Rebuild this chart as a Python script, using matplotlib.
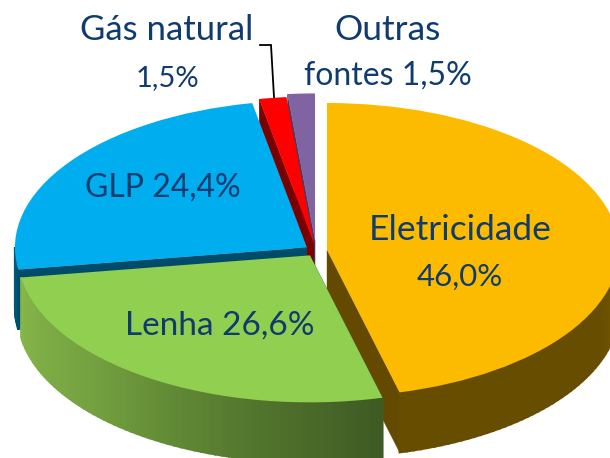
import numpy as np
import matplotlib
matplotlib.use("Agg")
import matplotlib.pyplot as plt
from matplotlib.colors import to_rgb

categories = ["Eletricidade", "Lenha", "GLP", "Gás natural", "Outras fontes"]
values = [46.0, 26.6, 24.4, 1.5, 1.5]
explode = [0.038, 0.038, 0.038, 0.05, 0.07]
top_colors = ["#FDBB00", "#90CF50", "#00AEEF", "#FF0000", "#8064A2"]
face_colors = ["#634A00", "#4A6B2C", "#004B69", "#7A0000", "#4A3A60"]
rim_stops = [
    [(0.0, "#7A5B00"), (0.12, "#735600"), (0.3, "#664D00"), (1.0, "#664D00")],
    [(0.0, "#3E5A24"), (0.3, "#55792F"), (0.65, "#74A140"), (1.0, "#85B64A")],
    [(0.0, "#004B69"), (1.0, "#005878")],
    [(0.0, "#7A0000"), (1.0, "#7A0000")],
    [(0.0, "#4A3A60"), (1.0, "#4A3A60")],
]
z_order = [3, 5, 4, 2, 1]
TEXT = "#0F3B6E"

# pie geometry in reference pixels
CX, CY, RX, RY, DEPTH = 316.0, 250.7, 292.0, 147.0, 60.0
W, H = 610, 458
depth = DEPTH / RY


def X(px):
    return (px - CX) / RX


def Y(py):
    return (CY - py) / RY


fig = plt.figure(figsize=(W / 100, H / 100), dpi=100)
ax = fig.add_axes([0, 0, 1, 1])
wedges, _ = ax.pie(values, explode=explode, colors=top_colors, startangle=90,
                   counterclock=False, radius=1.0, center=(0, 0),
                   wedgeprops=dict(linewidth=0))
ax.set_aspect("auto")
ax.set_xlim(X(0), X(W))
ax.set_ylim(Y(H), Y(0))
ax.axis("off")

edges = np.concatenate([[0], np.cumsum(values)]) / np.sum(values) * 2 * np.pi


def mix(stops, t):
    ts = [s[0] for s in stops]
    cs = np.array([to_rgb(s[1]) for s in stops])
    return tuple(np.interp(t, ts, cs[:, i]) for i in range(3))


for i, w in enumerate(wedges):
    z = z_order[i]
    w.set_zorder(z + 0.5)
    a0, a1 = edges[i], edges[i + 1]
    mid = (a0 + a1) / 2
    ox, oy = explode[i] * np.sin(mid), explode[i] * np.cos(mid)
    # cut face at the starting edge for GLP / gas / others, at the ending edge for electricity
    cut = a1 if i == 0 else a0
    ex, ey = ox + np.sin(cut), oy + np.cos(cut)
    ax.fill([ox, ex, ex, ox], [oy, ey, ey - depth, oy - depth],
            color=face_colors[i], lw=0.3, zorder=z)
    # outer rim on the front half of the ellipse
    lo, hi = max(a0, np.pi / 2), min(a1, 3 * np.pi / 2)
    if hi > lo:
        n = max(2, int((hi - lo) * 40))
        th = np.linspace(lo, hi, n + 1)
        for k in range(n):
            xs = ox + np.sin(th[k:k + 2])
            ys = oy + np.cos(th[k:k + 2])
            c = mix(rim_stops[i], (k + 0.5) / n)
            ax.fill([xs[0], xs[1], xs[1], xs[0]],
                    [ys[0], ys[1], ys[1] - depth, ys[0] - depth],
                    color=c, lw=1.5, zorder=z + 0.1)
        # the top surface is redrawn over the rim's stroke by its higher zorder

# leader line of the gas label
ax.plot([X(260), X(271), X(274)], [Y(45), Y(45), Y(97)], color="black", lw=1.3,
        zorder=9, solid_joinstyle="miter")

font = dict(family="Lato", color=TEXT, ha="center", va="baseline", zorder=10)
ax.text(X(167), Y(40), "Gás natural", fontsize=25, **font)
ax.text(X(167), Y(86), "1,5%", fontsize=21, **font)
ax.text(X(388), Y(40), "Outras", fontsize=25.5, **font)
ax.text(X(388), Y(85), "fontes 1,5%", fontsize=23, **font)
ax.text(X(460), Y(240), "Eletricidade", fontsize=25.5, **font)
ax.text(X(460), Y(286), "46,0%", fontsize=22.5, **font)
ax.text(X(163), Y(197), "GLP 24,4%", fontsize=23, **font)
ax.text(X(220), Y(335), "Lenha 26,6%", fontsize=24, **font)

fig.savefig("out.png", dpi=100)
